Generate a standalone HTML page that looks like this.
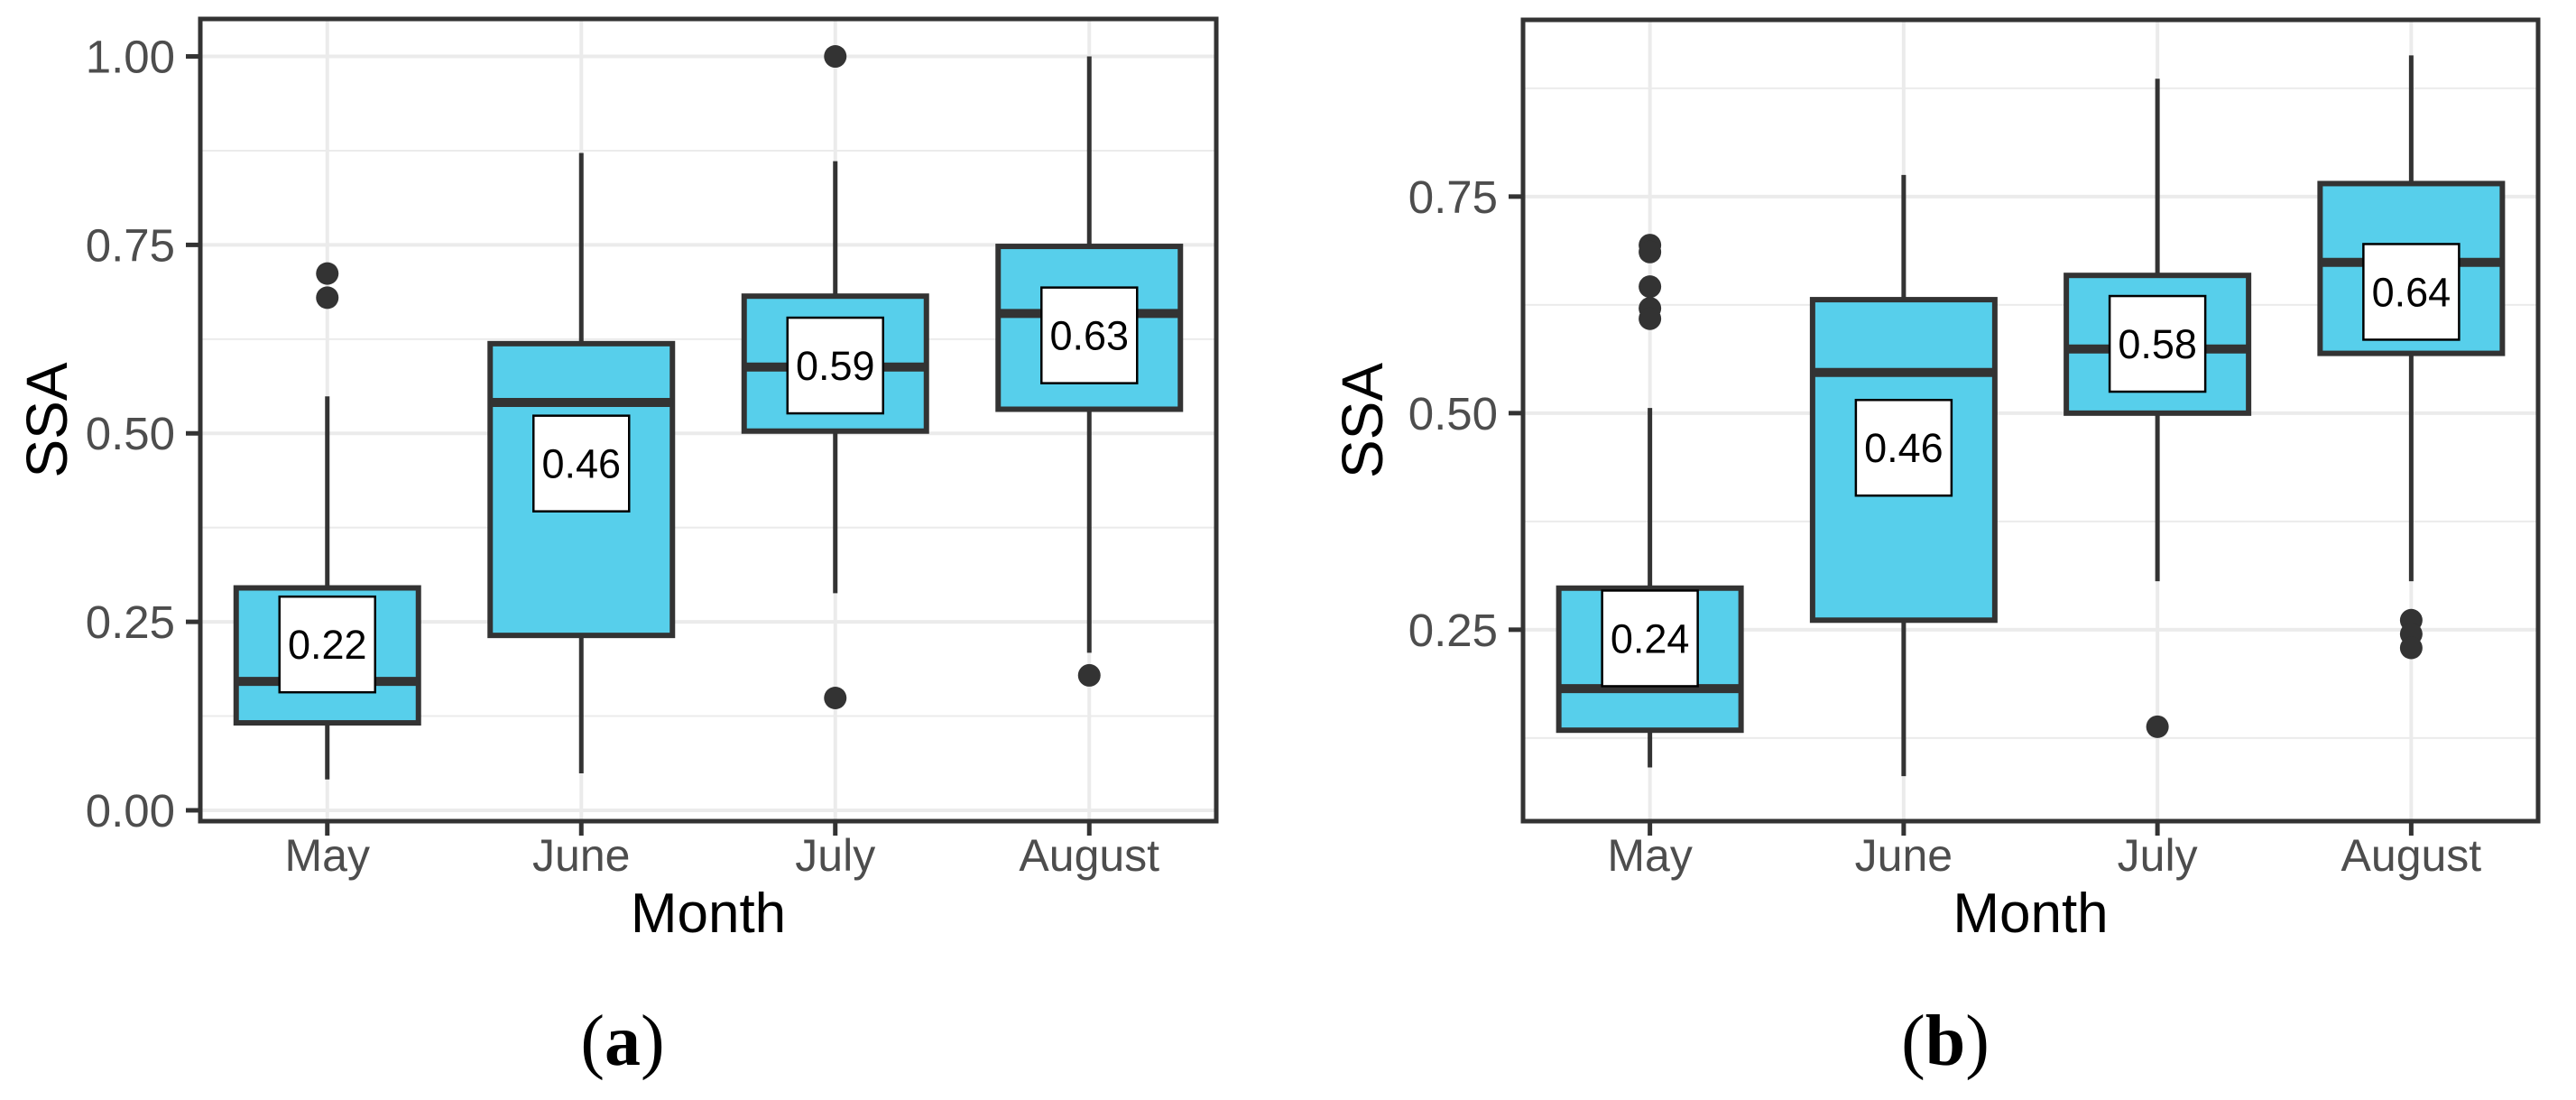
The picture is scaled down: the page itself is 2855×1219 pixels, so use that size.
<!DOCTYPE html>
<html><head><meta charset="utf-8"><style>
html,body{margin:0;padding:0;background:#fff;}
svg{display:block;}
</style></head><body>
<svg id="chart" width="2855" height="1219" viewBox="0 0 2855 1219" xmlns="http://www.w3.org/2000/svg"></svg>
<script>
const categories = ["May","June","July","August"];
// panel a
const aQ1 = [0.116,0.232,0.503,0.532];
const aMed = [0.171,0.541,0.588,0.659];
const aQ3 = [0.295,0.619,0.682,0.748];
const aLow = [0.041,0.049,0.288,0.209];
const aHigh = [0.549,0.872,0.861,1.0];
const aMean = [0.22,0.46,0.59,0.63];
const aOutliers = [[0.712,0.68],[],[1.0,0.149],[0.179]];
const aTicks = [0,0.25,0.5,0.75,1.0];
const aTickLabels = ["0.00","0.25","0.50","0.75","1.00"];
const aMinor = [0.125,0.375,0.625,0.875];
// panel b
const bQ1 = [0.134,0.261,0.5,0.569];
const bMed = [0.182,0.547,0.574,0.674];
const bQ3 = [0.298,0.631,0.659,0.765];
const bLow = [0.091,0.081,0.306,0.306];
const bHigh = [0.506,0.775,0.886,0.913];
const bMean = [0.24,0.46,0.58,0.64];
const bOutliers = [[0.694,0.686,0.646,0.621,0.609],[],[0.138],[0.261,0.245,0.229]];
const bTicks = [0.25,0.5,0.75];
const bTickLabels = ["0.25","0.50","0.75"];
const bMinor = [0.125,0.375,0.625,0.875];

const NS="http://www.w3.org/2000/svg";
const svg=document.getElementById('chart');
function el(tag,attrs,parent,text){const e=document.createElementNS(NS,tag);for(const k in attrs)e.setAttribute(k,attrs[k]);if(text!==undefined)e.textContent=text;(parent||svg).appendChild(e);return e;}

function panel(cfg){
  const g=el('g',{});
  
  
  const L=cfg.left,R=cfg.right,T=cfg.top,B=cfg.bottom;
  const y=v=>B-(v-cfg.ymin)/(cfg.ymax-cfg.ymin)*(B-T);
  const step=(R-L)/categories.length;
  const x=i=>L+step*(i+0.5);
  cfg.minor.forEach(v=>{if(v>cfg.ymin&&v<cfg.ymax){const l=el('line',{x1:L,x2:R,y1:y(v),y2:y(v),stroke:'#ebebeb','stroke-width':2},g);
    
    }});
  cfg.ticks.forEach(v=>{const l=el('line',{x1:L,x2:R,y1:y(v),y2:y(v),stroke:'#ebebeb','stroke-width':4},g);
    
    });
  categories.forEach((c,i)=>{const l=el('line',{x1:x(i),x2:x(i),y1:T,y2:B,stroke:'#ebebeb','stroke-width':4},g);
    
    });
  const hw=101;
  categories.forEach((c,i)=>{
    const bg=el('g',{},g);
    
    
    el('line',{x1:x(i),x2:x(i),y1:y(cfg.high[i]),y2:y(cfg.q3[i]),stroke:'#333','stroke-width':5},bg);
    el('line',{x1:x(i),x2:x(i),y1:y(cfg.q1[i]),y2:y(cfg.low[i]),stroke:'#333','stroke-width':5},bg);
    el('rect',{x:x(i)-hw,y:y(cfg.q3[i]),width:2*hw,height:y(cfg.q1[i])-y(cfg.q3[i]),fill:'#57cfeb',stroke:'#333','stroke-width':6},bg);
    el('line',{x1:x(i)-hw,x2:x(i)+hw,y1:y(cfg.med[i]),y2:y(cfg.med[i]),stroke:'#333','stroke-width':10},bg);
    cfg.out[i].forEach(v=>{const p=el('circle',{cx:x(i),cy:y(v),r:12.5,fill:'#333'},bg);
      
      });
    const lb=el('g',{},bg);
    
    
    el('rect',{x:x(i)-53,y:y(cfg.mean[i])-53,width:106,height:106,fill:'#fff',stroke:'#000','stroke-width':2.5},lb);
    el('text',{x:x(i),y:y(cfg.mean[i])+16,'text-anchor':'middle','font-family':'Liberation Sans, sans-serif','font-size':45,fill:'#000'},lb,cfg.mean[i].toFixed(2));
  });
  const fr=el('rect',{x:L,y:T,width:R-L,height:B-T,fill:'none',stroke:'#333','stroke-width':5},g);
  
  
  cfg.ticks.forEach((v,k)=>{
    el('line',{x1:L-16,x2:L,y1:y(v),y2:y(v),stroke:'#333','stroke-width':5},g);
    const t=el('text',{x:L-28,y:y(v)+18,'text-anchor':'end','font-family':'Liberation Sans, sans-serif','font-size':51,fill:'#4d4d4d'},g,cfg.tickLabels[k]);
    
    
  });
  categories.forEach((c,i)=>{
    el('line',{x1:x(i),x2:x(i),y1:B,y2:B+16,stroke:'#333','stroke-width':5},g);
    const t=el('text',{x:x(i),y:B+55,'text-anchor':'middle','font-family':'Liberation Sans, sans-serif','font-size':50,fill:'#4d4d4d'},g,c);
    
    
  });
  const xt=el('text',{x:(L+R)/2,y:B+123,'text-anchor':'middle','font-family':'Liberation Sans, sans-serif','font-size':62,fill:'#000'},g,'Month');
  
  
  const yt=el('text',{x:0,y:0,transform:`translate(${cfg.ytx},${(T+B)/2}) rotate(-90)`,'text-anchor':'middle','font-family':'Liberation Sans, sans-serif','font-size':64,fill:'#000'},g,'SSA');
  
  
  const cap=el('text',{x:cfg.capx,y:1180,'text-anchor':'middle','font-family':'Liberation Serif, serif','font-size':80,fill:'#000'},g);
  
  
  el('tspan',{},cap,'(');
  el('tspan',{'font-weight':'bold'},cap,cfg.letter);
  el('tspan',{},cap,')');
}
panel({name:'panel-a',left:222,right:1348,top:21,bottom:910,ymin:-0.0144,ymax:1.0497,
  q1:aQ1,med:aMed,q3:aQ3,low:aLow,high:aHigh,mean:aMean,out:aOutliers,ticks:aTicks,tickLabels:aTickLabels,minor:aMinor,ytx:74,capx:690,letter:'a'});
panel({name:'panel-b',left:1688,right:2813,top:22,bottom:910,ymin:0.029,ymax:0.954,
  q1:bQ1,med:bMed,q3:bQ3,low:bLow,high:bHigh,mean:bMean,out:bOutliers,ticks:bTicks,tickLabels:bTickLabels,minor:bMinor,ytx:1532,capx:2156,letter:'b'});
</script>
</body></html>
